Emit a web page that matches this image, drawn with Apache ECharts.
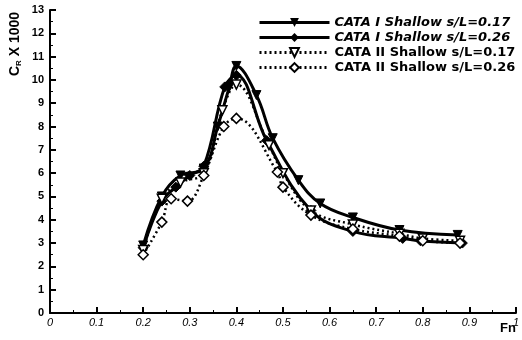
<!DOCTYPE html>
<html><head><meta charset="utf-8">
<script src="https://cdn.jsdelivr.net/npm/echarts@6/dist/echarts.min.js"></script>
<style>html,body{margin:0;padding:0;background:#fff}#c{width:522px;height:340px}</style>
</head><body><div id="c"></div>
<script>
var names = ['CATA I Shallow s/L=0.17','CATA I Shallow s/L=0.26','CATA II Shallow s/L=0.17','CATA II Shallow s/L=0.26'];
var fn1 = [0.20,0.24,0.28,0.33,0.36,0.385,0.40,0.443,0.478,0.533,0.58,0.65,0.75,0.875];
var cr1 = [2.9,5.0,5.9,6.2,8.0,9.7,10.6,9.35,7.5,5.7,4.7,4.1,3.56,3.35];
var fn2 = [0.20,0.24,0.27,0.30,0.33,0.375,0.40,0.465,0.56,0.65,0.757,0.795,0.885];
var cr2 = [2.8,4.8,5.4,5.9,6.3,9.7,10.2,7.4,4.4,3.5,3.2,3.1,3.0];
var fn3 = [0.20,0.24,0.28,0.33,0.37,0.40,0.47,0.50,0.56,0.65,0.75,0.80,0.88];
var cr3 = [2.7,4.9,5.6,6.0,8.7,9.8,7.2,6.0,4.4,3.8,3.4,3.2,3.1];
var fn4 = [0.20,0.24,0.26,0.295,0.33,0.373,0.40,0.488,0.50,0.56,0.65,0.75,0.80,0.88];
var cr4 = [2.5,3.9,4.9,4.8,5.9,8.0,8.35,6.05,5.4,4.2,3.6,3.3,3.1,3.0];
var xTicks = [0,0.1,0.2,0.3,0.4,0.5,0.6,0.7,0.8,0.9,1];

function pairs(xs, ys){ return xs.map(function(x,i){ return [x, ys[i]]; }); }

var chart = echarts.init(document.getElementById('c'));
var fontF = '"Liberation Sans", Arial, sans-serif';
var legFont = '"DejaVu Sans", sans-serif';
chart.setOption({
  animation:false,
  grid:{left:50,right:3,top:10,bottom:27},
  legend:{
    orient:'vertical', left:253, top:11, itemWidth:70, itemHeight:11, itemGap:2,
    lineStyle:{width:3},
    textStyle:{fontFamily:legFont,fontWeight:'bold',fontSize:13,color:'#000'},
    data:[
      {name:names[0],textStyle:{fontStyle:'italic'}},
      {name:names[1],textStyle:{fontStyle:'italic'}},
      {name:names[2]},
      {name:names[3]}
    ]
  },
  xAxis:{
    type:'value',min:0,max:1,interval:0.1,
    axisLine:{lineStyle:{color:'#000',width:2}},
    axisTick:{inside:true,length:6,lineStyle:{color:'#000',width:2}},
    minorTick:{show:true,splitNumber:2,length:3,lineStyle:{color:'#000'}},
    splitLine:{show:false},
    axisLabel:{color:'#000',fontFamily:fontF,fontStyle:'italic',fontSize:11,margin:4,
      formatter:function(v){ var s=Math.round(v*10)/10; return xTicks.indexOf(s)>=0 ? String(s) : ''; }}
  },
  yAxis:{
    type:'value',min:0,max:13,interval:1,
    axisLine:{show:true,lineStyle:{color:'#000',width:2}},
    axisTick:{show:true,inside:true,length:6,lineStyle:{color:'#000',width:2}},
    minorTick:{show:true,splitNumber:2,length:3,lineStyle:{color:'#000'}},
    splitLine:{show:false},
    axisLabel:{color:'#000',fontFamily:fontF,fontWeight:'bold',fontSize:11,margin:6}
  },
  graphic:[
    {type:'text',left:500,top:322,style:{text:'Fn',font:'bold 13px "Liberation Sans", Arial, sans-serif',fill:'#000'}},
    {type:'text',x:7,y:76,rotation:Math.PI/2,
     style:{text:'{c|C}{s|R}{c| X 1000}',fill:'#000',
       rich:{c:{font:'bold 14px "Liberation Sans", Arial, sans-serif',fill:'#000'},
             s:{font:'bold 8px "Liberation Sans", Arial, sans-serif',fill:'#000',verticalAlign:'bottom',padding:[8,0,0,0]}}}}
  ],
  series:[
    {name:names[0],type:'line',smooth:0.4,data:pairs(fn1,cr1),symbol:'triangle',symbolRotate:180,symbolSize:9,
     lineStyle:{color:'#000',width:3},itemStyle:{color:'#000',borderColor:'#000'}},
    {name:names[1],type:'line',smooth:0.4,data:pairs(fn2,cr2),symbol:'diamond',symbolSize:10,
     lineStyle:{color:'#000',width:3},itemStyle:{color:'#000',borderColor:'#000'}},
    {name:names[2],type:'line',smooth:0.4,data:pairs(fn3,cr3),symbol:'triangle',symbolRotate:180,symbolSize:9,
     lineStyle:{color:'#000',width:2.5,type:[2,3]},itemStyle:{color:'#fff',borderColor:'#000',borderWidth:1.5}},
    {name:names[3],type:'line',smooth:0.4,data:pairs(fn4,cr4),symbol:'diamond',symbolSize:10,
     lineStyle:{color:'#000',width:2.5,type:[2,3]},itemStyle:{color:'#fff',borderColor:'#000',borderWidth:1.5}}
  ]
});
</script></body></html>
